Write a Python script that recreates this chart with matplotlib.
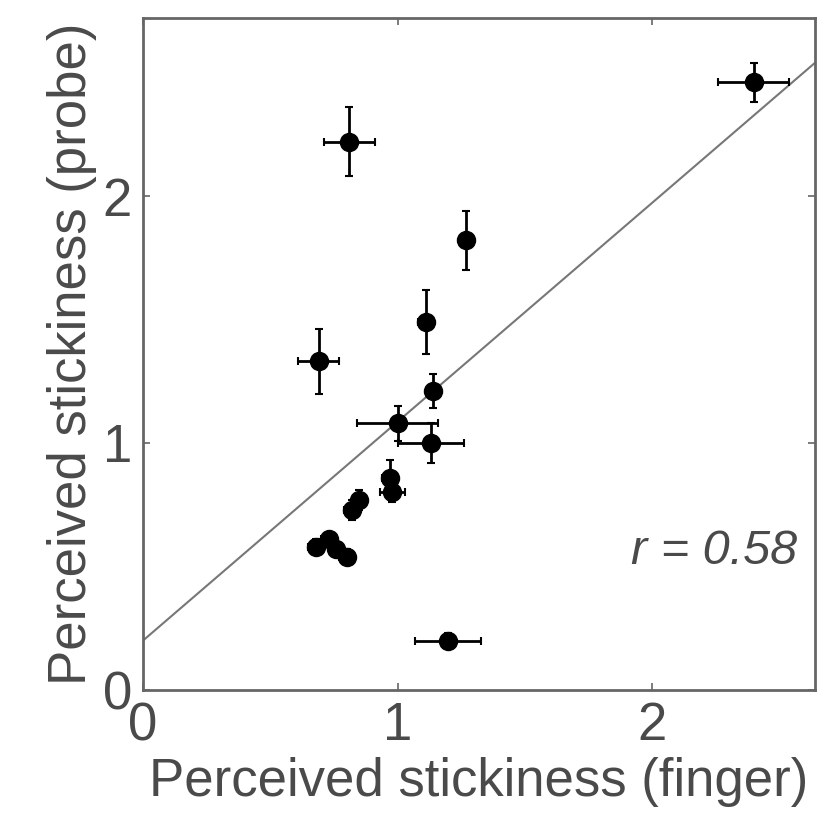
import numpy as np
import matplotlib.pyplot as plt

#%% data

finger = [2.40, 0.81, 1.27, 1.11, 0.69, 1.14, 1.00, 1.13, 0.97, 0.98, 0.85, 0.82, 0.73, 0.68, 0.76, 0.80, 1.20]
probe = [2.46, 2.22, 1.82, 1.49, 1.33, 1.21, 1.08, 1.00, 0.86, 0.80, 0.77, 0.73, 0.61, 0.58, 0.57, 0.54, 0.20]
finger_err = [0.14, 0.10, 0.03, 0.03, 0.08, 0.03, 0.16, 0.13, 0.03, 0.05, 0.03, 0.03, 0.03, 0.03, 0.03, 0.03, 0.13]
probe_err = [0.08, 0.14, 0.12, 0.13, 0.13, 0.07, 0.07, 0.08, 0.07, 0.04, 0.04, 0.04, 0.03, 0.03, 0.03, 0.03, 0.03]

fit_intercept = 0.20
fit_slope = 0.886

r_text = 'r = 0.58'

#%% plot

plt.rcParams['font.family'] = ['Liberation Sans', 'DejaVu Sans']
txt = '#4a4a4a'

fig = plt.figure(figsize=(8.19, 8.27), dpi=100)
ax = fig.add_axes([0.1746, 0.1657, 0.8204, 0.8123])

xl = np.array([0, 2.64])
ax.plot(xl, fit_intercept + fit_slope*xl, color='#777777', lw=1.5, zorder=1)

ax.errorbar(finger, probe, xerr=finger_err, yerr=probe_err, fmt='o', color='black',
            ms=13, elinewidth=2, capsize=3, capthick=1.5, zorder=3)

ax.text(2.57, 0.56, r_text, style='italic', fontsize=35, color=txt,
        ha='right', va='center')

ax.set_xlim(0, 2.64)
ax.set_ylim(0, 2.72)
ax.set_xticks([0, 1, 2])
ax.set_yticks([0, 1, 2])
ax.tick_params(direction='in', length=5, width=1.2, top=True, right=True,
               labelsize=38, labelcolor=txt, color='#666666', pad=8)
for s in ax.spines.values():
    s.set_color('#666666')
    s.set_linewidth(2)

ax.set_xlabel('Perceived stickiness (finger)', fontsize=38, color=txt, labelpad=4)
ax.set_ylabel('Perceived stickiness (probe)', fontsize=38, color=txt, labelpad=4)

fig.savefig('out.png', dpi=100)
